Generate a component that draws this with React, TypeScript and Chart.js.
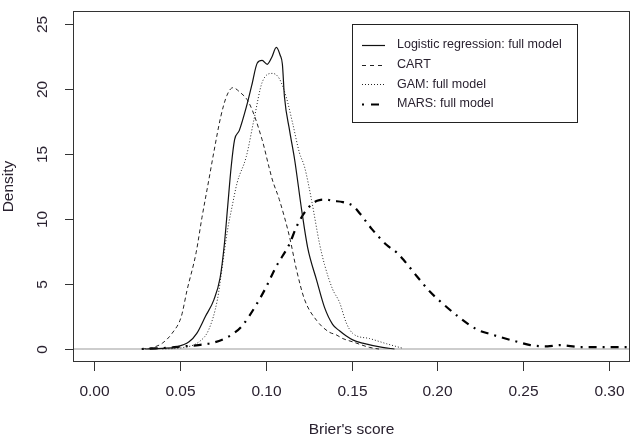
import React, { useEffect, useRef } from "react";
import { Chart, registerables } from "chart.js";

Chart.register(...registerables);

// Kernel density estimates of the Brier score for each model
const logisticX = [0.030, 0.040, 0.048, 0.0555, 0.060, 0.065, 0.070, 0.0736, 0.076, 0.078, 0.080, 0.082, 0.0847, 0.0888, 0.092, 0.0952, 0.098, 0.101, 0.1035, 0.1063, 0.1085, 0.1098, 0.111, 0.114, 0.117, 0.121, 0.1245, 0.1297, 0.1343, 0.139, 0.143, 0.147, 0.1507, 0.1565, 0.168, 0.175];
const logisticY = [0, 0.05, 0.15, 0.55, 1.2, 2.5, 3.8, 5.5, 8.0, 11.0, 14.0, 16.1, 16.8, 18.6, 20.3, 22.0, 22.2, 21.9, 22.4, 23.2, 22.6, 21.9, 19.4, 16.8, 14.5, 10.7, 7.8, 5.3, 3.2, 1.9, 1.4, 1.0, 0.7, 0.45, 0.12, 0];

const cartX = [0.028, 0.034, 0.040, 0.0456, 0.051, 0.0543, 0.0596, 0.063, 0.067, 0.070, 0.074, 0.0775, 0.081, 0.0847, 0.0905, 0.098, 0.102, 0.104, 0.108, 0.114, 0.118, 0.1227, 0.1297, 0.137, 0.141, 0.145, 0.1507, 0.1606, 0.166];
const cartY = [0, 0.1, 0.45, 1.2, 2.5, 4.5, 7.4, 10.1, 13.0, 15.2, 17.9, 19.5, 20.1, 19.8, 18.9, 16.1, 14.0, 13.0, 11.5, 8.6, 6.1, 3.8, 2.2, 1.3, 1.1, 0.8, 0.55, 0.12, 0];

const gamX = [0.040, 0.0514, 0.0613, 0.067, 0.072, 0.0748, 0.0777, 0.0806, 0.0835, 0.0888, 0.0935, 0.098, 0.104, 0.108, 0.112, 0.1157, 0.1197, 0.1227, 0.1267, 0.1314, 0.1343, 0.139, 0.143, 0.147, 0.1507, 0.1606, 0.1705, 0.180];
const gamY = [0, 0.1, 0.55, 1.5, 3.8, 6.3, 9.0, 11.0, 12.8, 14.8, 17.8, 20.5, 21.2, 20.8, 19.4, 17.4, 15.1, 14.0, 11.5, 8.1, 6.5, 4.6, 3.6, 2.0, 1.2, 0.8, 0.4, 0.05];

const marsX = [0.028, 0.036, 0.044, 0.052, 0.061, 0.070, 0.077, 0.0815, 0.0865, 0.0946, 0.1005, 0.106, 0.114, 0.118, 0.1238, 0.130, 0.135, 0.139, 0.145, 0.151, 0.155, 0.162, 0.1705, 0.1765, 0.180, 0.188, 0.1957, 0.203, 0.213, 0.223, 0.2307, 0.2465, 0.254, 0.264, 0.2716, 0.283, 0.293, 0.308, 0.32];
const marsY = [0, 0.05, 0.1, 0.2, 0.3, 0.5, 0.85, 1.2, 1.8, 3.4, 4.8, 6.3, 8.1, 9.4, 10.7, 11.4, 11.5, 11.4, 11.3, 11.0, 10.4, 9.2, 8.0, 7.4, 6.9, 5.6, 4.4, 3.5, 2.4, 1.5, 1.15, 0.55, 0.3, 0.2, 0.3, 0.15, 0.15, 0.15, 0.12];

// Axis ticks and legend entries
const xTickValues = [0, 0.05, 0.1, 0.15, 0.2, 0.25, 0.3];
const xTickLabels = ["0.00", "0.05", "0.10", "0.15", "0.20", "0.25", "0.30"];
const yTickValues = [0, 5, 10, 15, 20, 25];
const yTickLabels = ["0", "5", "10", "15", "20", "25"];
const seriesNames = ["Logistic regression: full model", "CART", "GAM: full model", "MARS: full model"];

const xTitle = "Brier's score";
const yTitle = "Density";

const toPoints = (xs: number[], ys: number[]) => xs.map((x, i) => ({ x, y: ys[i] }));

// solid, dashed, dotted, dot-dash (thicker)
const lineStyles = [
  { color: "#111111", width: 1.2, dash: [] as number[], keyDash: [] as number[] },
  { color: "#222222", width: 1, dash: [4, 3], keyDash: [4, 4] },
  { color: "#222222", width: 1, dash: [1, 2], keyDash: [1, 2] },
  { color: "#000000", width: 2.2, dash: [2, 6, 8, 6], keyDash: [2, 7, 8, 20] },
];

const textColor = "#2a2230";
const fontFamily = "'Liberation Sans', Arial, sans-serif";

const rStylePlugin = {
  id: "rStyle",
  beforeDatasetsDraw(chart: any) {
    const { ctx, chartArea, scales } = chart;
    const y0 = scales.y.getPixelForValue(0);
    ctx.save();
    ctx.strokeStyle = "#bdbdbd";
    ctx.lineWidth = 1.5;
    ctx.beginPath();
    ctx.moveTo(chartArea.left, y0);
    ctx.lineTo(chartArea.right, y0);
    ctx.stroke();
    ctx.restore();
  },
  afterDraw(chart: any) {
    const { ctx, chartArea, scales } = chart;
    const { left, right, top, bottom } = chartArea;
    const xs = scales.x;
    const ys = scales.y;
    ctx.save();

    // plot frame
    ctx.strokeStyle = "#333333";
    ctx.lineWidth = 1;
    ctx.setLineDash([]);
    ctx.strokeRect(left + 0.5, top + 0.5, right - left - 1, bottom - top - 1);

    // x axis
    ctx.fillStyle = textColor;
    ctx.font = `15.5px ${fontFamily}`;
    ctx.textAlign = "center";
    ctx.textBaseline = "middle";
    xTickValues.forEach((v, i) => {
      const px = Math.round(xs.getPixelForValue(v)) + 0.5;
      ctx.beginPath();
      ctx.moveTo(px, bottom);
      ctx.lineTo(px, bottom + 9);
      ctx.stroke();
      ctx.fillText(xTickLabels[i], px, bottom + 30);
    });

    // y axis, labels rotated as in base R graphics
    yTickValues.forEach((v, i) => {
      const py = Math.round(ys.getPixelForValue(v)) + 0.5;
      ctx.beginPath();
      ctx.moveTo(left - 8, py);
      ctx.lineTo(left, py);
      ctx.stroke();
      ctx.save();
      ctx.translate(left - 30, py);
      ctx.rotate(-Math.PI / 2);
      ctx.fillText(yTickLabels[i], 0, 0);
      ctx.restore();
    });

    // axis titles
    ctx.fillText(xTitle, (left + right) / 2, bottom + 68);
    ctx.save();
    ctx.translate(left - 64, (top + bottom) / 2);
    ctx.rotate(-Math.PI / 2);
    ctx.fillText(yTitle, 0, 0);
    ctx.restore();

    // legend box
    const lx = left + 279;
    const ly = top + 13;
    const lw = 225;
    const lh = 98;
    ctx.fillStyle = "#ffffff";
    ctx.fillRect(lx, ly, lw, lh);
    ctx.strokeStyle = "#222222";
    ctx.strokeRect(lx + 0.5, ly + 0.5, lw, lh);
    ctx.font = `12.5px ${fontFamily}`;
    ctx.textAlign = "left";
    seriesNames.forEach((name, i) => {
      const rowY = ly + 21 + i * 19.6;
      const st = lineStyles[i];
      ctx.strokeStyle = st.color;
      ctx.lineWidth = st.width;
      ctx.setLineDash(st.keyDash);
      ctx.beginPath();
      ctx.moveTo(lx + 10, Math.round(rowY) + 0.5);
      ctx.lineTo(lx + 33, Math.round(rowY) + 0.5);
      ctx.stroke();
      ctx.setLineDash([]);
      ctx.fillStyle = textColor;
      ctx.fillText(name, lx + 45, rowY);
    });
    ctx.restore();
  },
};

export default function App() {
  const canvasRef = useRef<HTMLCanvasElement | null>(null);

  useEffect(() => {
    const canvas = canvasRef.current;
    if (!canvas) return;
    const series = [
      toPoints(logisticX, logisticY),
      toPoints(cartX, cartY),
      toPoints(gamX, gamY),
      toPoints(marsX, marsY),
    ];
    const chart = new Chart(canvas, {
      type: "line",
      data: {
        datasets: series.map((data, i) => ({
          label: seriesNames[i],
          data,
          borderColor: lineStyles[i].color,
          borderWidth: lineStyles[i].width,
          borderDash: lineStyles[i].dash,
          pointRadius: 0,
          fill: false,
          cubicInterpolationMode: "monotone" as const,
          clip: 0,
        })),
      },
      options: {
        responsive: false,
        animation: false,
        layout: { padding: { left: 73, top: 11, right: 6, bottom: 77 } },
        scales: {
          x: { type: "linear", min: -0.012, max: 0.312, display: false },
          y: { type: "linear", min: -1, max: 26, display: false },
        },
        plugins: { legend: { display: false }, tooltip: { enabled: false } },
      },
      plugins: [rStylePlugin],
    });
    return () => chart.destroy();
  }, []);

  return (
    <div style={{ position: "fixed", left: 0, top: 0, width: 636, height: 439, background: "#ffffff" }}>
      <canvas ref={canvasRef} width={636} height={439} style={{ display: "block" }} />
    </div>
  );
}
